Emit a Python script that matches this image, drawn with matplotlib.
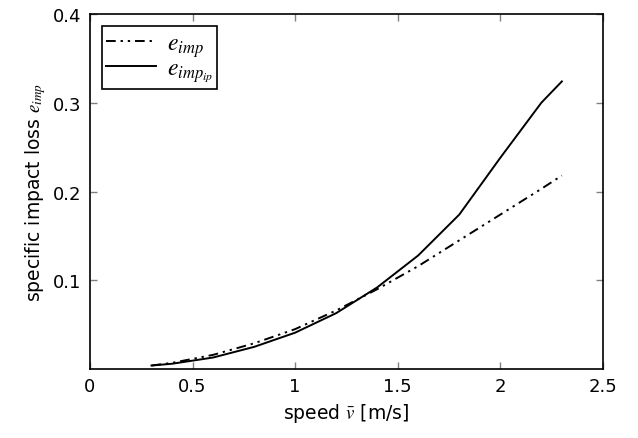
import numpy as np
import matplotlib
matplotlib.use("Agg")
import matplotlib.pyplot as plt

# speed [m/s]
speed = [0.3, 0.4, 0.6, 0.8, 1.0, 1.2, 1.4, 1.6, 1.8, 2.0, 2.2, 2.3]
# specific impact loss
e_imp = [0.004, 0.007, 0.016, 0.029, 0.045, 0.066, 0.090, 0.116, 0.145, 0.174, 0.203, 0.218]
e_imp_ip = [0.004, 0.006, 0.013, 0.025, 0.041, 0.063, 0.092, 0.128, 0.174, 0.238, 0.300, 0.324]

plt.rcParams["font.family"] = "DejaVu Sans"
plt.rcParams["mathtext.fontset"] = "stix"
plt.rcParams["font.size"] = 13

fig = plt.figure(figsize=(6.38, 4.39), dpi=100)
ax = fig.add_axes([0.141, 0.157, 0.804, 0.809])

ax.plot(speed, e_imp, color="black", lw=1.4, ls=(0, (5, 2.5, 1.2, 2.5, 1.2, 2.5)),
        label=r"$e_{imp}$")
ax.plot(speed, e_imp_ip, color="black", lw=1.4, label=r"$e_{imp_{ip}}$")

ax.set_xlim(0, 2.5)
ax.set_ylim(0, 0.4)
ax.set_xticks([0, 0.5, 1, 1.5, 2, 2.5])
ax.set_xticklabels(["0", "0.5", "1", "1.5", "2", "2.5"])
ax.set_yticks([0.1, 0.2, 0.3, 0.4])
ax.tick_params(direction="in", top=True, right=True, length=5, width=1,
               color="gray", pad=6)
for s in ax.spines.values():
    s.set_linewidth(1.2)

ax.set_xlabel(r"speed $\bar{v}$ [m/s]", fontsize=13.5)
ax.set_ylabel(r"specific impact loss $e_{imp}$", fontsize=13.5)

leg = ax.legend(loc="upper left", fancybox=False, edgecolor="black",
                framealpha=1, handlelength=2.1, handletextpad=0.45,
                borderpad=0.2, labelspacing=-0.15, fontsize=17,
                borderaxespad=0.5)
leg.get_frame().set_linewidth(1.2)

fig.savefig("out.png", dpi=100)
